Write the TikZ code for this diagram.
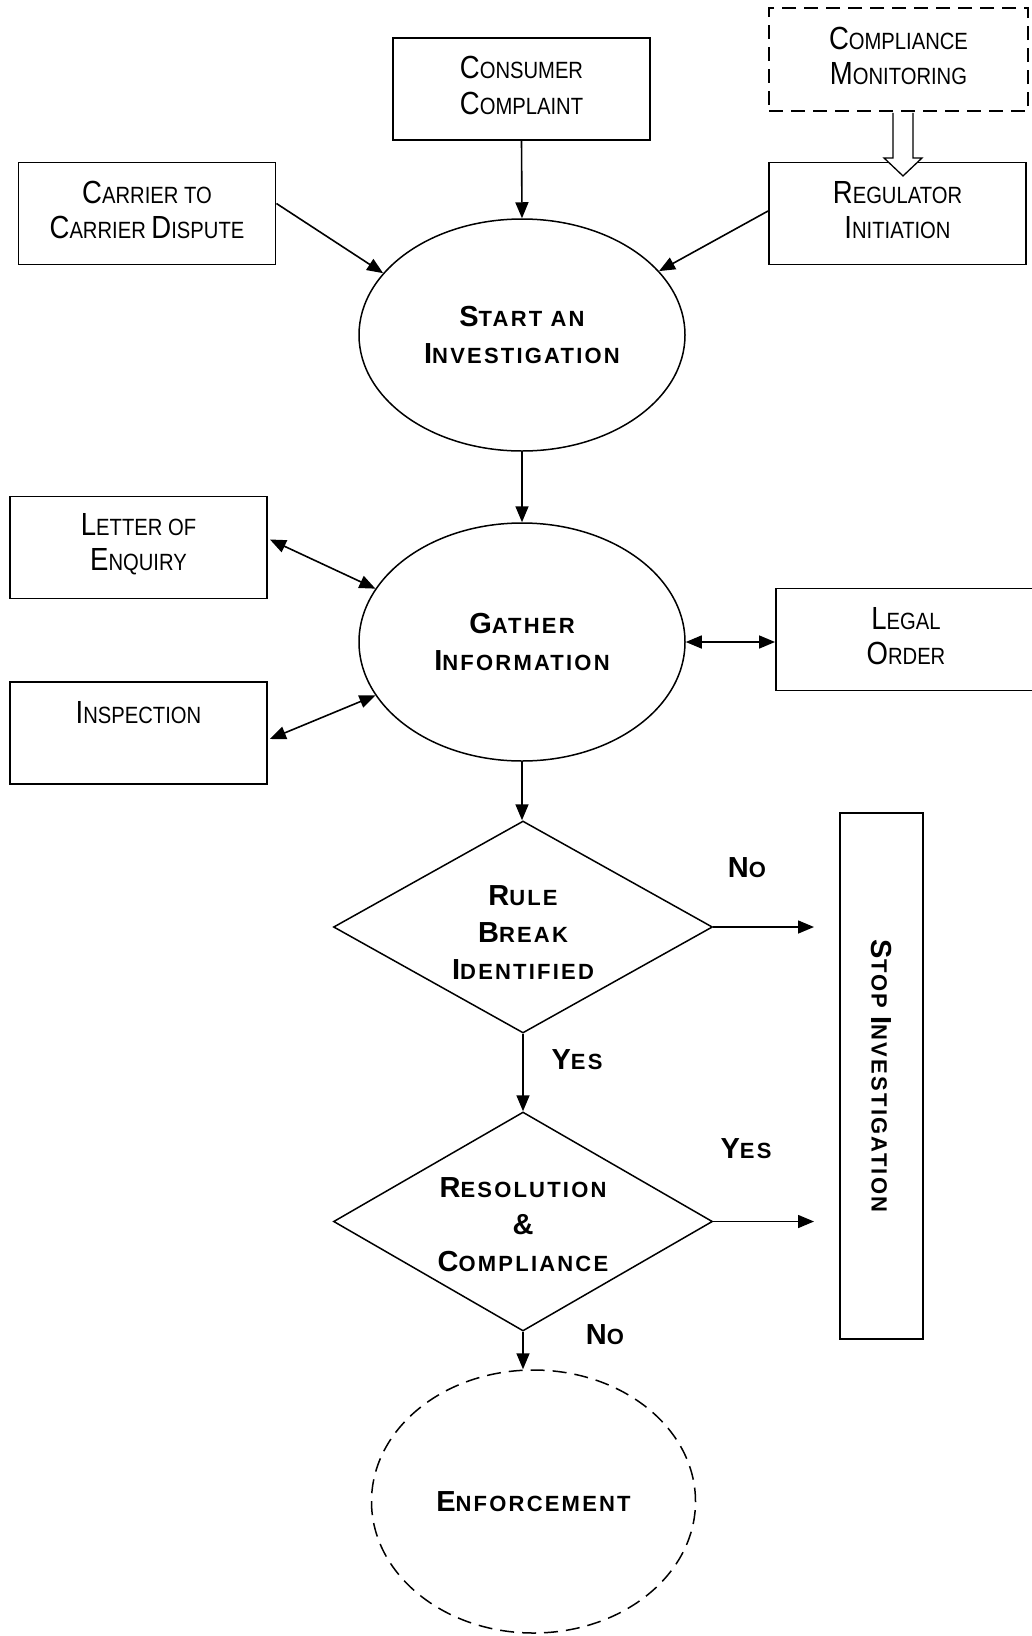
\documentclass[tikz,border=0pt]{standalone}
\usepackage{fontspec}
\setmainfont{Liberation Sans}
\newfontfamily\regf[FakeStretch=0.86]{Liberation Sans}
\newfontfamily\boldf[LetterSpace=10]{Liberation Sans}
\usetikzlibrary{shapes.geometric,arrows.meta,calc}
\newcommand\scR[2]{{\fontsize{32}{35.5}\selectfont #1}{\fontsize{23.5}{35.5}\selectfont #2}}
\newcommand\scB[2]{{\fontsize{29}{37}\selectfont #1}{\fontsize{22}{37}\selectfont #2}}
\begin{document}
\begin{tikzpicture}[x=1pt,y=-1pt,
  box/.style={draw, line width=1.9pt, rectangle, minimum width=257pt, minimum height=102pt, inner sep=0pt},
  rtext/.style={align=center, inner sep=0pt, font=\regf\fontsize{23.5}{35.5}\selectfont},
  ell/.style={draw, line width=1.5pt, ellipse, minimum width=326pt, minimum height=232pt, inner sep=0pt, align=center, font=\boldf\bfseries\fontsize{22}{37}\selectfont},
  dia/.style={draw, line width=1.5pt, diamond, minimum width=379pt, minimum height=212pt, inner sep=0pt},
  btext/.style={font=\boldf\bfseries\fontsize{22}{37}\selectfont, align=center, inner sep=0pt},
  arr/.style={line width=1.6pt, -{Triangle[length=16pt,width=13pt]}},
  darr/.style={line width=1.6pt, {Triangle[length=16pt,width=13pt]}-{Triangle[length=16pt,width=13pt]}},
  dsh/.style={dash pattern=on 14pt off 8pt}
]
\useasboundingbox[fill=white] (0,0) rectangle (1032,1636);

\node[box] (consumer) at (521.5,89) {};
\node[rtext] (consumert) at ([yshift=3.5pt]consumer.center) {\scR{C}{ONSUMER}\\\scR{C}{OMPLAINT}};
\node[box, dsh, minimum width=259pt, minimum height=103pt] (monitor) at (898.5,59.5) {};
\node[rtext] (monitort) at ([yshift=3.5pt]monitor.center) {\scR{C}{OMPLIANCE}\\\scR{M}{ONITORING}};
\node[box] (carrier) at (147,213.5) {};
\node[rtext] (carriert) at ([yshift=3.5pt]carrier.center) {\scR{C}{ARRIER TO}\\\scR{C}{ARRIER} \scR{D}{ISPUTE}};
\node[box] (regulator) at (897.5,213.5) {};
\node[rtext] (regulatort) at ([yshift=3.5pt]regulator.center) {\scR{R}{EGULATOR}\\\scR{I}{NITIATION}};
\node[ell] (start) at (522,335) {\scB{S}{TART AN}\\\scB{I}{NVESTIGATION}};
\node[box] (letter) at (138.5,547.5) {};
\node[rtext] (lettert) at ([yshift=3.5pt]letter.center) {\scR{L}{ETTER OF}\\\scR{E}{NQUIRY}};
\node[ell, minimum height=238pt] (gather) at (522,642) {\scB{G}{ATHER}\\\scB{I}{NFORMATION}};
\node[box, minimum width=260pt] (legal) at (906,639.5) {};
\node[rtext] (legalt) at ([yshift=3.5pt]legal.center) {\scR{L}{EGAL}\\\scR{O}{RDER}};
\node[box] (inspect) at (138.5,733) {};
\node[rtext] (inspectt) at (138.5,713) {\scR{I}{NSPECTION}};
\node[dia] (d1) at (523,927) {};
\node[btext] (d1t) at (523,933) {\scB{R}{ULE}\\\scB{B}{REAK}\\\scB{I}{DENTIFIED}};
\node[btext, draw, line width=1.9pt, rotate=-90, minimum width=526pt, minimum height=83pt] (stop) at (881.5,1076) {\scB{S}{TOP} \scB{I}{NVESTIGATION}};
\node[dia, minimum height=219pt] (d2) at (523,1221.5) {};
\node[btext] (d2t) at (523,1225) {\scB{R}{ESOLUTION}\\\scB{\&}{}\\\scB{C}{OMPLIANCE}};
\node[ell, dsh, minimum width=324pt, minimum height=263pt] (enf) at (533.5,1501.5) {\scB{E}{NFORCEMENT}};

\node[btext] (lno1) at (747,868) {\scB{N}{O}};
\node[btext] (lyes1) at (577,1060) {\scB{Y}{ES}};
\node[btext] (lyes2) at (746,1149) {\scB{Y}{ES}};
\node[btext] (lno2) at (605,1335) {\scB{N}{O}};

\coordinate (e1) at (814,927);
\coordinate (e2) at (814,1221.5);

\draw[arr] (consumer.south) -- (start.north);
\draw[arr] ([yshift=10pt]carrier.east) -- (start.156);
\draw[arr] ([yshift=2.5pt]regulator.west) -- (start.25);
\draw[arr] (start.south) -- (gather.north);
\draw[darr] ([xshift=2pt,yshift=8pt]letter.east) -- (gather.160);
\draw[darr] ([xshift=2pt,yshift=-6pt]inspect.east) -- (gather.200);
\draw[darr] (gather.east) -- (gather.east -| legal.west);
\draw[arr] (gather.south) -- (gather.south |- d1.north);
\draw[arr] (d1.east) -- (e1);
\draw[arr] (d1.south) -- (d2.north);
\draw[arr] (d2.east) -- (e2);
\draw[arr] (d2.south) -- (d2.south |- enf.north);

\draw[line width=1.3pt, fill=white]
  ($(monitor.south)+(-5.5,1)$) -- ++(0,45) -- ++(-9,0)
  -- ($(monitor.south)+(4.5,64)$) -- ($(monitor.south)+(23.5,46)$)
  -- ++(-9,0) -- ($(monitor.south)+(14.5,1)$);
\end{tikzpicture}
\end{document}
